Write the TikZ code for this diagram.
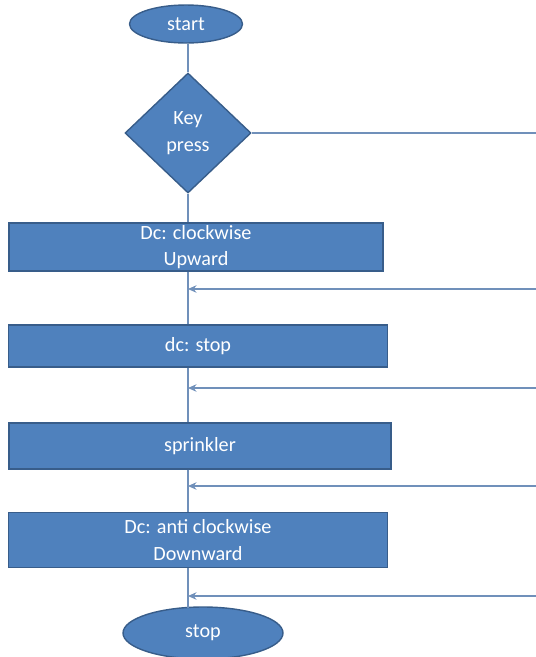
\documentclass[tikz,border=0pt]{standalone}
\usepackage{fontspec}
\setmainfont{Carlito}
\usetikzlibrary{arrows.meta,positioning,shapes.geometric,calc}
\usepackage{xcolor}
\definecolor{ofblue}{HTML}{4F81BD}
\definecolor{ofedge}{HTML}{385D8A}
\definecolor{flow}{HTML}{7090BA}
\tikzset{
  shape base/.style={draw=ofedge, thick, fill=ofblue, text=white, align=center, font=\fontsize{11.5}{15}\selectfont, inner sep=0pt},
  termbox/.style={shape base, ellipse},
  decbox/.style={shape base, diamond},
  procbox/.style={shape base, rectangle},
  flowline/.style={draw=flow, line width=0.6pt},
  arrow/.style={flowline, -{Stealth[length=1.7mm, width=1.5mm]}}
}

\begin{document}
\begin{tikzpicture}[x=0.02cm, y=-0.02cm]
  \useasboundingbox (0,0) rectangle (536,657);
  \coordinate (trunk) at (188,0);
  \coordinate (edge) at (536,0);
  \node[termbox, minimum width=2.26cm, minimum height=0.76cm] (start) at (186,24) {start};
  \node[decbox, minimum width=2.52cm, minimum height=2.4cm] (key) at (188,133) {Key\\press};
  \node[procbox, minimum width=7.48cm, minimum height=0.96cm] (clock) at (196,247) {Dc: clockwise\\Upward};
  \node[procbox, minimum width=7.58cm, minimum height=0.84cm] (dcstop) at (198,346) {dc: stop};
  \node[procbox, minimum width=7.64cm, minimum height=0.92cm] (sprink) at (200,446) {sprinkler};
  \node[procbox, minimum width=7.58cm, minimum height=1.1cm] (anti) at (198,540) {Dc: anti clockwise\\Downward};
  \node[termbox, minimum width=3.2cm, minimum height=1.04cm] (stop) at (203,633) {stop};
  % main line
  \draw[flowline] (start.south -| trunk) -- (key.north -| trunk);
  \draw[flowline] (key.south -| trunk) -- (clock.north -| trunk);
  \draw[flowline] (clock.south -| trunk) -- (dcstop.north -| trunk);
  \draw[flowline] (dcstop.south -| trunk) -- (sprink.north -| trunk);
  \draw[flowline] (sprink.south -| trunk) -- (anti.north -| trunk);
  \draw[flowline] (anti.south -| trunk) -- ($(stop.north -| trunk)+(0,1.5)$);
  % return lines from the right
  \draw[flowline] (key.east) -- (key.east -| edge);
  \coordinate (r1) at (536,289);
  \coordinate (r2) at (536,388);
  \coordinate (r3) at (536,486);
  \coordinate (r4) at (536,596);
  \draw[arrow] (r1) -- (r1 -| trunk);
  \draw[arrow] (r2) -- (r2 -| trunk);
  \draw[arrow] (r3) -- (r3 -| trunk);
  \draw[arrow] (r4) -- (r4 -| trunk);
\end{tikzpicture}
\end{document}
